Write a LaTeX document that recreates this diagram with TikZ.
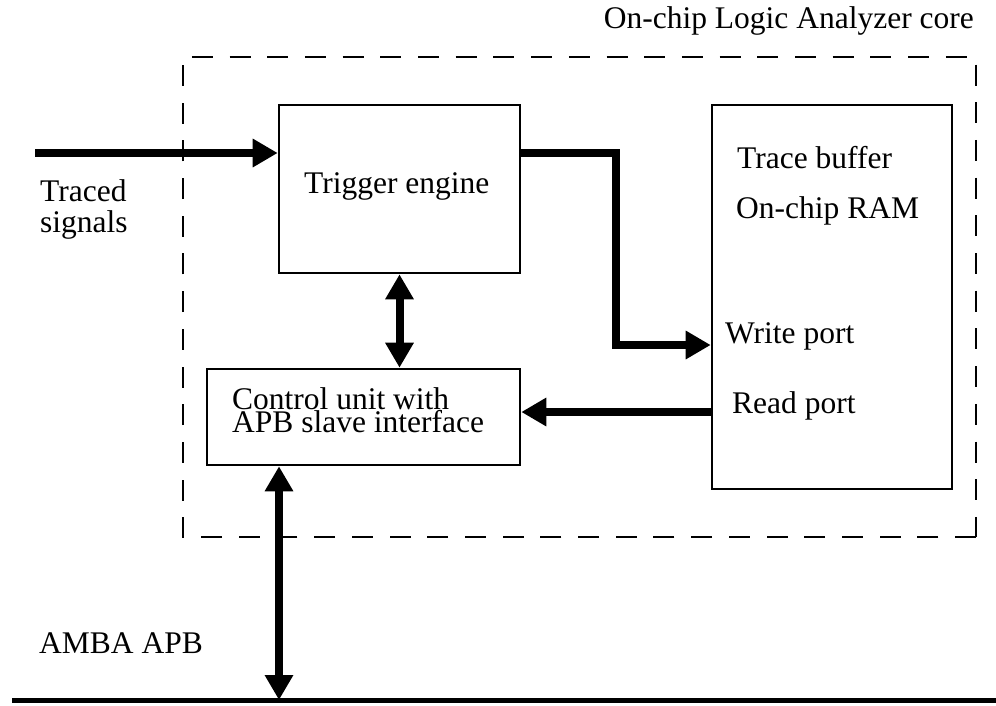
\documentclass[tikz,border=0pt]{standalone}
\usepackage{fontspec}
\setmainfont{Liberation Serif}
\usetikzlibrary{arrows.meta}
\tikzset{
  lbl/.style={font=\fontsize{31.5}{31.5}\selectfont, inner sep=0pt, anchor=base west},
  box/.style={draw, line width=2.6pt, inner sep=0pt},
  frame/.style={draw, line width=2.6pt, dash pattern=on 21pt off 16.7pt},
  bigarrow/.style={line width=8pt, -{Triangle[length=25pt,width=27pt]}},
  bigdouble/.style={line width=8pt, {Triangle[length=25pt,width=27pt]}-{Triangle[length=25pt,width=27pt]}},
  bus/.style={line width=5pt}
}
\begin{document}
\begin{tikzpicture}[x=1pt,y=-1pt]
\useasboundingbox (0,0) rectangle (996,705);
% dashed core frame
\draw[frame] (976,537) -- (183,537) -- (183,57) -- (976,57) -- cycle;
\node[lbl, anchor=base east] (title) at (974,28) {On-chip Logic Analyzer core};
% blocks
\node[box, minimum width=241pt, minimum height=168pt] (trig) at (399.5,189) {};
\node[box, minimum width=240pt, minimum height=384pt] (trace) at (832,297) {};
\node[box, minimum width=313pt, minimum height=96pt] (ctrl) at (363.5,417) {};
% texts
\node[lbl] (tTrig) at (304,193) {Trigger engine};
\node[lbl] (tTrace) at (737,168) {Trace buffer};
\node[lbl] (tRam) at (736,218) {On-chip RAM};
\node[lbl] (tWrite) at (725,343) {Write port};
\node[lbl] (tRead) at (732,413) {Read port};
\node[lbl, align=left, font=\fontsize{31.5}{23}\selectfont] (tCtrl) at (232,432) {Control unit with\\APB slave interface};
\node[lbl] (tTraced) at (40,201) {Traced};
\node[lbl] (tSignals) at (40,232) {signals};
\node[lbl] (tAmba) at (39,653) {AMBA APB};
% coordinates
\coordinate (in) at (35,153);
\coordinate (bendA) at (616,153);
\coordinate (wy) at (616,345);
\coordinate (ry) at (0,412);
\coordinate (busL) at (12,700);
\coordinate (busR) at (996,700);
\coordinate (busX) at (279,700);
% connectors
\draw[bigarrow] (in) -- (in -| trig.west);
\draw[bigarrow] (trig.east |- in) -- (bendA) -- (wy) -- (wy -| trace.west);
\draw[bigarrow] (trace.west |- ry) -- (ctrl.east |- ry);
\draw[bigdouble] (trig.south) -- (trig.south |- ctrl.north);
\draw[bus] (busL) -- (busR);
\draw[bigdouble] (busX |- ctrl.south) -- (busX);
\end{tikzpicture}
\end{document}
